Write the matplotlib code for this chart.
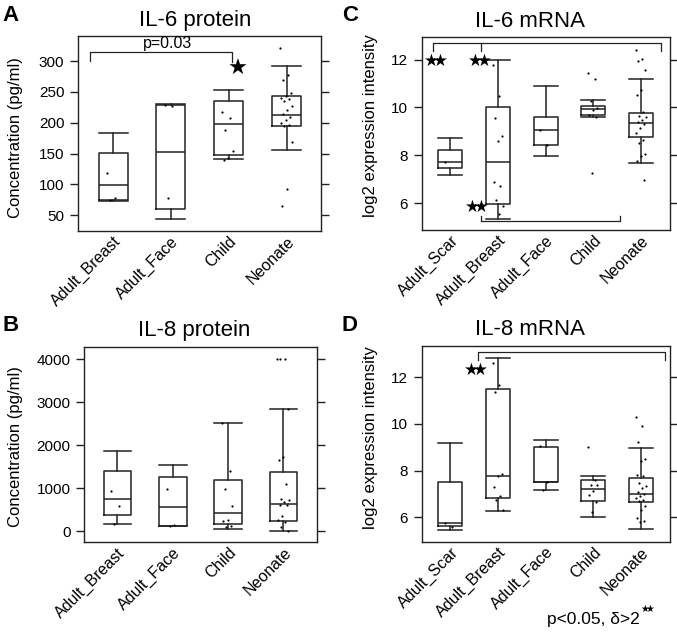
import numpy as np
import matplotlib.pyplot as plt

plt.rcParams['font.family'] = ['Liberation Sans', 'DejaVu Sans']

# Panel A: IL-6 protein (pg/ml)
prot_groups = ['Adult_Breast', 'Adult_Face', 'Child', 'Neonate']
il6p_lo = [73, 43, 141, 155]
il6p_q1 = [75, 60, 148, 195]
il6p_med = [99, 152, 198, 213]
il6p_q3 = [151, 229, 235, 244]
il6p_hi = [183, 230, 253, 292]
il6p_pts = [[119, 78, 75],
            [229, 228, 77],
            [218, 208, 189, 154, 142, 140],
            [321, 277, 270, 249, 244, 241, 238, 236, 228, 220, 215, 210,
             205, 200, 196, 194, 168, 92, 64]]

# Panel B: IL-8 protein (pg/ml)
il8p_lo = [163, 110, 47, 0]
il8p_q1 = [365, 117, 163, 225]
il8p_med = [746, 559, 427, 622]
il8p_q3 = [1391, 1251, 1181, 1375]
il8p_hi = [1857, 1530, 2510, 2852]
il8p_pts = [[932, 575, 163],
            [971, 148, 117],
            [2510, 1399, 971, 575, 264, 225, 109, 93],
            [4000, 4000, 4000, 2852, 1725, 1647, 1103, 754, 715, 676, 614,
             598, 342, 249, 210, 93, 0]]

# Panel C: IL-6 mRNA (log2)
mrna_groups = ['Adult_Scar', 'Adult_Breast', 'Adult_Face', 'Child', 'Neonate']
il6m_lo = [7.17, 5.33, 7.97, 9.60, 7.68]
il6m_q1 = [7.45, 5.96, 8.41, 9.70, 8.77]
il6m_med = [7.72, 7.73, 9.07, 9.95, 9.36]
il6m_q3 = [8.21, 10.0, 9.60, 10.08, 9.75]
il6m_hi = [8.74, 11.97, 10.88, 10.31, 11.19]
il6m_pts = [[7.72],
            [11.76, 10.49, 9.56, 8.79, 8.61, 6.88, 6.73, 6.11, 5.86, 5.55],
            [9.07, 8.41],
            [11.44, 11.19, 10.26, 9.98, 9.9, 9.70, 9.60, 7.27],
            [12.42, 12.03, 11.93, 11.58, 10.74, 10.51, 9.8, 9.66, 9.6, 9.49,
             9.4, 9.3, 9.14, 8.93, 8.65, 8.51, 8.07, 7.95, 7.74, 6.95]]

# Panel D: IL-8 mRNA (log2)
il8m_lo = [5.46, 6.27, 7.17, 6.01, 5.50]
il8m_q1 = [5.64, 6.83, 7.52, 6.71, 6.63]
il8m_med = [5.77, 7.77, 7.52, 7.20, 7.01]
il8m_q3 = [7.49, 11.50, 9.03, 7.59, 7.67]
il8m_hi = [9.17, 12.81, 9.29, 7.77, 8.97]
il8m_pts = [[5.77, 5.60],
            [12.63, 11.67, 11.35, 7.86, 7.76, 7.29, 6.92, 6.72, 6.29],
            [9.05, 7.52, 7.16],
            [9.0, 7.6, 7.37, 7.36, 7.14, 6.96, 6.63, 6.22],
            [10.29, 9.89, 9.22, 8.49, 8.43, 7.82, 7.75, 7.46, 7.32, 7.25,
             7.1, 7.0, 6.89, 6.82, 6.75, 6.68, 6.5, 6.31, 5.96, 5.82, 5.78]]

LINE = '#222222'
STAR1 = r'$\bigstar$'
STAR2 = r'$\bigstar\!\!\bigstar$'   # two overlapping stars


def draw_boxes(ax, names, lo, q1, med, q3, hi, pts):
    stats = [dict(whislo=a, q1=b, med=c, q3=d, whishi=e, fliers=[])
             for a, b, c, d, e in zip(lo, q1, med, q3, hi)]
    pos = np.arange(1, len(names) + 1)
    lp = dict(color=LINE, linewidth=1.1)
    ax.bxp(stats, positions=pos, widths=0.5, capwidths=0.5, boxprops=lp,
           whiskerprops=lp, capprops=lp, medianprops=lp, showfliers=False,
           manage_ticks=False)
    for p, vals in zip(pos, pts):
        off = ((np.arange(len(vals)) * 0.618) % 1 - 0.5) * 0.22
        ax.scatter(p + off, vals, s=2.5, color='black', lw=0, zorder=3)
    ax.set_xticks(pos)
    ax.set_xticklabels(names, rotation=45, ha='right', rotation_mode='anchor',
                       fontsize=11.5)
    ax.set_xlim(0.4, len(names) + 0.6)
    ax.tick_params(axis='x', length=0, pad=2)
    ax.tick_params(axis='y', direction='out', length=6, width=1, color=LINE,
                   right=True, labelright=False, labelsize=11, pad=4)
    for s in ax.spines.values():
        s.set_color(LINE)
        s.set_linewidth(1.0)


def bracket(ax, x0, x1, y, drop0, drop1, mids=()):
    ax.plot([x0, x0, x1, x1], [drop0, y, y, drop1], color=LINE, lw=0.9)
    for m, d in mids:
        ax.plot([m, m], [y, d], color=LINE, lw=0.9)


def stars(ax, x, y, s=STAR2, size=12):
    ax.text(x, y, s, fontsize=size, ha='center', va='center')


fig = plt.figure(figsize=(6.77, 6.34), dpi=100)

axA = fig.add_axes([0.1157, 0.6356, 0.3589, 0.3076])
axB = fig.add_axes([0.1245, 0.1446, 0.3433, 0.3076])
axC = fig.add_axes([0.6229, 0.6372, 0.3663, 0.3049])
axD = fig.add_axes([0.6229, 0.1456, 0.3663, 0.3087])

draw_boxes(axA, prot_groups, il6p_lo, il6p_q1, il6p_med, il6p_q3, il6p_hi, il6p_pts)
axA.set_ylim(24, 341)
axA.set_yticks([50, 100, 150, 200, 250, 300])
axA.set_ylabel('Concentration (pg/ml)', fontsize=12)
axA.yaxis.set_label_coords(-0.228, 0.48)
axA.set_title('IL-6 protein', fontsize=16, x=0.479, pad=7)
bracket(axA, 0.6, 3.06, 315, 300, 299)
axA.text(1.95, 316, 'p=0.03', fontsize=11.5, ha='center', va='bottom')
stars(axA, 3.15, 289, s=STAR1, size=16)

draw_boxes(axB, prot_groups, il8p_lo, il8p_q1, il8p_med, il8p_q3, il8p_hi, il8p_pts)
axB.set_ylim(-263, 4280)
axB.set_yticks([0, 1000, 2000, 3000, 4000])
axB.set_ylabel('Concentration (pg/ml)', fontsize=12)
axB.yaxis.set_label_coords(-0.264, 0.49)
axB.set_title('IL-8 protein', fontsize=16, x=0.475, pad=8)

draw_boxes(axC, mrna_groups, il6m_lo, il6m_q1, il6m_med, il6m_q3, il6m_hi, il6m_pts)
axC.set_ylim(4.87, 12.96)
axC.set_yticks([6, 8, 10, 12])
axC.set_ylabel('log2 expression intensity', fontsize=12)
axC.yaxis.set_label_coords(-0.175, 0.54)
axC.set_title('IL-6 mRNA', fontsize=16, x=0.437, pad=7)
bracket(axC, 0.63, 5.41, 12.70, 12.35, 12.35, mids=[(1.65, 12.35)])
bracket(axC, 1.65, 4.55, 5.23, 5.47, 5.47)
stars(axC, 0.70, 11.97)
stars(axC, 1.62, 11.97)
stars(axC, 1.55, 5.85)

draw_boxes(axD, mrna_groups, il8m_lo, il8m_q1, il8m_med, il8m_q3, il8m_hi, il8m_pts)
axD.set_ylim(4.95, 13.34)
axD.set_yticks([6, 8, 10, 12])
axD.set_ylabel('log2 expression intensity', fontsize=12)
axD.yaxis.set_label_coords(-0.175, 0.53)
axD.set_title('IL-8 mRNA', fontsize=16, x=0.437, pad=8)
bracket(axD, 1.58, 5.51, 13.07, 12.74, 12.74)
stars(axD, 1.53, 12.31)

for lab, x, y in [('A', 0.003, 0.976), ('B', 0.003, 0.487),
                  ('C', 0.505, 0.976), ('D', 0.505, 0.487)]:
    fig.text(x, y, lab, fontsize=16, fontweight='bold', ha='left', va='center')

note = fig.text(0.8075, 0.023, 'p<0.05, \u03b4>2', fontsize=12.5,
                ha='left', va='center')
fig.canvas.draw()
nb = note.get_window_extent().transformed(fig.transFigure.inverted())
fig.text(nb.x1 + 0.001, 0.04, STAR2, fontsize=7, ha='left', va='center')

fig.savefig('out.png', dpi=100)
